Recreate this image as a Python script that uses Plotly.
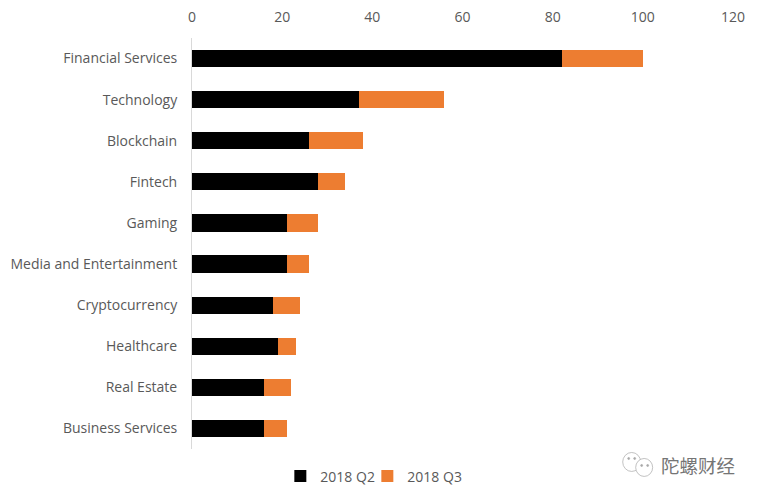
import plotly.graph_objects as go

categories = ["Financial Services", "Technology", "Blockchain", "Fintech", "Gaming",
              "Media and Entertainment", "Cryptocurrency", "Healthcare", "Real Estate",
              "Business Services"]
q2_values = [82, 37, 26, 28, 21, 21, 18, 19, 16, 16]
q3_values = [18, 19, 12, 6, 7, 5, 6, 4, 6, 5]
x_ticks = [0, 20, 40, 60, 80, 100, 120]

# The page has an 8px body margin, so the figure is 8px smaller than the window.
W, H = 760, 499
OFF = 8
L, R, T, B = 191.5, 733.5, 37.5, 449.5
FONT = "Open Sans"
GREY = "#595959"


def px(x):
    return (x - L) / (R - L)


def py(y):
    return (B - y) / (B - T)


fig = go.Figure()
fig.add_bar(y=categories, x=q2_values, name="2018 Q2", orientation="h", legendwidth=42,
            marker=dict(color="#000000", line_width=0))
fig.add_bar(y=categories, x=q3_values, name="2018 Q3", orientation="h", legendwidth=62,
            marker=dict(color="#ED7D31", line_width=0))

shapes = [
    dict(type="circle", xref="paper", yref="paper", x0=px(x0), x1=px(x1), y0=py(y1), y1=py(y0),
         line=dict(color=c, width=0.7), fillcolor=f)
    for x0, y0, x1, y1, c, f in [
        (623, 453, 641, 472, "#a8a8a8", "white"),
        (636, 459, 653, 477, "#a8a8a8", "white"),
        (628, 458, 630, 460, "#a8a8a8", "#a8a8a8"),
        (634, 458, 636, 460, "#a8a8a8", "#a8a8a8"),
        (641, 465, 643, 467, "#a8a8a8", "#a8a8a8"),
        (647, 465, 649, 467, "#a8a8a8", "#a8a8a8"),
    ]
]

fig.update_layout(
    width=W - OFF, height=H - OFF, autosize=False,
    margin=dict(l=L - OFF, r=W - R, t=T - OFF, b=H - B, pad=0, autoexpand=False),
    paper_bgcolor="white", plot_bgcolor="white",
    barmode="stack", bargap=0.58,
    font=dict(family=FONT, color=GREY, size=14),
    shapes=shapes,
    legend=dict(orientation="h", x=px(280), xref="paper", y=py(477),
                yref="paper", xanchor="left", yanchor="middle",
                font=dict(size=14, color=GREY), bgcolor="rgba(0,0,0,0)",
                itemwidth=30, traceorder="normal"),
    annotations=[dict(text="陀螺财经", x=px(698), y=py(466), xref="paper", yref="paper",
                      showarrow=False, xanchor="center", yanchor="middle",
                      font=dict(family="Noto Sans CJK SC", size=18.5, color="#757575"))],
)
fig.update_xaxes(range=[0, 120], tickvals=x_ticks, side="top", showgrid=False, zeroline=False,
                 showline=False, ticks="", ticklabelstandoff=12, automargin=False,
                 tickfont=dict(size=14, color=GREY))
fig.update_yaxes(categoryorder="array", categoryarray=categories, autorange="reversed",
                 showgrid=False, zeroline=False, showline=True, linecolor="#D9D9D9", linewidth=1,
                 ticks="", ticklabelstandoff=11, automargin=False,
                 tickfont=dict(size=14, color=GREY))
fig.write_html("out.html")
